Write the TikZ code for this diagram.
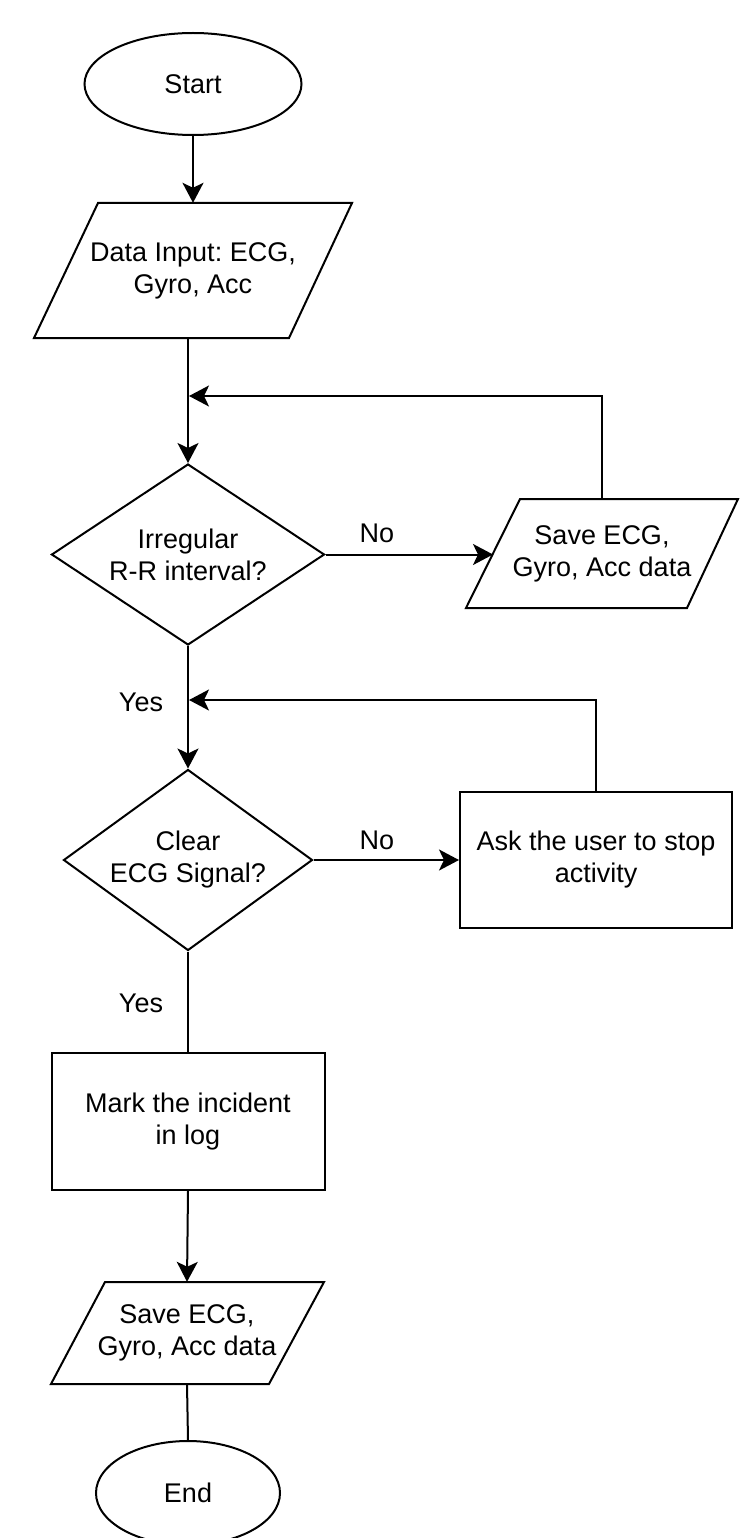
\documentclass[tikz,border=0pt]{standalone}
\usepackage{fontspec}
\setmainfont{Liberation Sans}
\usetikzlibrary{shapes.geometric,arrows.meta}
\frenchspacing
\begin{document}
\begin{tikzpicture}[x=1pt,y=-1pt,
  every node/.style={font=\fontsize{27}{32}\selectfont, align=center},
  shp/.style={draw, line width=2pt},
  term/.style={shp, ellipse, inner sep=0pt},
  dec/.style={shp, diamond, inner sep=0pt},
  proc/.style={shp, rectangle, inner sep=0pt},
  io/.style={inner sep=0pt},
  lbl/.style={inner sep=0pt},
  conn/.style={line width=2pt},
  arr/.style={conn, -{Stealth[length=20pt,width=21pt,inset=5pt]}}
]
\fill[white] (0,0) rectangle (745,1538);
\useasboundingbox (0,0) rectangle (745,1538);

% Start
\node[term, minimum width=217pt, minimum height=102pt] (start) at (193,84) {Start};

% Data input (parallelogram)
\draw[shp] (98,203) -- (352,203) -- (289,338) -- (34,338) -- cycle;
\node[io, minimum width=318pt, minimum height=135pt] (din) at (193,270.5) {Data Input: ECG,\\Gyro, Acc};

% Decision 1
\node[dec, aspect=1.5, minimum width=273pt, minimum height=181pt] (d1) at (188,554.5) {Irregular\\R-R interval?};

% Save 1 (parallelogram)
\draw[shp] (520,499) -- (738,499) -- (687,608) -- (466,608) -- cycle;
\node[io, minimum width=272pt, minimum height=109pt] (s1) at (602,553.5) {Save ECG,\\Gyro, Acc data};
\coordinate (s1w) at (493,554.5);
\coordinate (j1) at (189,396);

% Decision 2
\node[dec, aspect=1.38, minimum width=249pt, minimum height=181pt] (d2) at (188,860) {Clear\\ECG Signal?};

% Ask box
\node[proc, minimum width=272pt, minimum height=136pt] (ask) at (596,860) {Ask the user to stop\\activity};
\coordinate (j2) at (189,700);

% Mark box
\node[proc, minimum width=273pt, minimum height=137pt] (mark) at (188,1121.5) {Mark the incident\\in log};

% Save 2 (parallelogram)
\draw[shp] (105,1282) -- (324,1282) -- (269,1384) -- (51,1384) -- cycle;
\node[io, minimum width=273pt, minimum height=102pt] (s2) at (187,1333) {Save ECG,\\Gyro, Acc data};

% End
\node[term, minimum width=184pt, minimum height=104pt] (end) at (188,1493) {End};

% Labels
\node[lbl] (no1) at (377,533) {No};
\node[lbl] (yes1) at (141,702) {Yes};
\node[lbl] (no2) at (377,840) {No};
\node[lbl] (yes2) at (141,1003) {Yes};

% Connectors
\draw[arr] (start.south) -- (din.north);
\draw[arr] ([xshift=-5pt]din.south) -- (d1.north);
\draw[arr] (d1.east) -- (s1w);
\draw[arr] (s1.north) |- (j1);
\draw[arr] (d1.south) -- (d2.north);
\draw[arr] (d2.east) -- (ask.west);
\draw[arr] (ask.north) |- (j2);
\draw[conn] (d2.south) -- (mark.north);
\draw[arr] (mark.south) -- (s2.north);
\draw[conn] (s2.south) -- (end.north);
\end{tikzpicture}
\end{document}
